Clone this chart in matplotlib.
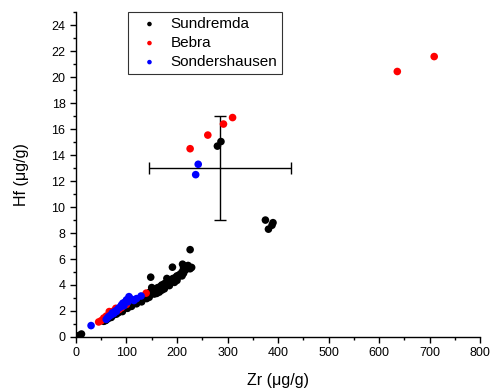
import matplotlib
matplotlib.use("Agg")
import matplotlib.pyplot as plt
from matplotlib.ticker import MultipleLocator

plt.rcParams['font.family'] = ['Liberation Sans', 'DejaVu Sans']

# Sundremda
sund_zr = [5, 8, 11,
           55, 58, 60, 63, 65, 68, 70, 72, 75, 78, 80, 83, 85, 88, 90, 92, 95, 98, 100, 102,
           105, 108, 110, 112, 115, 118, 120, 122, 125, 128, 130, 132, 135, 138, 140, 142,
           145, 148, 150, 152, 155, 158, 160, 162, 165, 168, 170, 172, 175, 178, 180, 182,
           185, 188, 190, 192, 195, 198, 200, 203, 205, 208, 210, 213, 215, 218, 220, 223, 226, 229,
           130, 145, 160, 175, 120, 110, 155, 170, 185, 200, 140, 165, 150, 180, 195, 210,
           148, 191, 211, 226, 217, 222, 213,
           280, 287,
           375, 381, 388, 390]
sund_hf = [0.08, 0.13, 0.22,
           1.2, 1.25, 1.3, 1.4, 1.45, 1.55, 1.5, 1.65, 1.7, 1.8, 1.75, 1.85, 1.9, 2.0, 2.1, 1.95, 2.2, 2.25, 2.3, 2.2,
           2.4, 2.5, 2.45, 2.6, 2.7, 2.65, 2.8, 2.75, 2.9, 3.0, 2.95, 3.1, 3.05, 3.2, 3.3, 3.15,
           3.4, 3.5, 3.45, 3.6, 3.55, 3.7, 3.65, 3.8, 3.75, 3.9, 4.0, 3.85, 4.1, 4.05, 4.2, 4.15,
           4.3, 4.25, 4.4, 4.5, 4.45, 4.6, 4.7, 4.65, 4.8, 4.75, 5.0, 4.9, 5.1, 5.2, 5.3, 5.4, 5.25, 5.35,
           2.7, 3.05, 3.35, 3.7, 2.55, 2.35, 3.3, 3.6, 3.95, 4.35, 2.95, 3.45, 3.8, 4.5, 4.2, 4.7,
           4.6, 5.37, 5.6, 6.72, 5.45, 5.5, 5.3,
           14.7, 15.05,
           9.0, 8.3, 8.6, 8.8]

# Bebra
bebra_zr = [45, 50, 55, 60, 66, 70, 75, 79, 85, 90, 100, 139, 226, 261, 292, 310, 636, 709]
bebra_hf = [1.15, 1.25, 1.45, 1.6, 1.95, 1.9, 2.0, 2.2, 2.1, 2.25, 2.5, 3.37, 14.5, 15.55, 16.4, 16.9, 20.45, 21.6]

# Sondershausen
sond_zr = [30, 60, 63, 66, 70, 72, 75, 78, 80, 84, 88, 90, 93, 95, 98, 100, 103, 105, 110, 115, 120, 129, 237, 242]
sond_hf = [0.87, 1.35, 1.5, 1.6, 1.7, 1.85, 1.8, 2.0, 1.95, 2.2, 2.3, 2.45, 2.6, 2.4, 2.7, 2.85, 2.7, 3.1, 2.9, 2.8, 2.95, 3.15, 12.5, 13.3]

# Error bar (typical uncertainty)
err_x, err_y = 285, 13.0
err_xerr, err_yerr = 140, 4.0

fig = plt.figure(figsize=(4.93, 3.89), dpi=100)
ax = fig.add_axes([0.154, 0.134, 0.820, 0.834])

ms = 30
ax.scatter(sund_zr, sund_hf, s=ms, c='black', edgecolors='none', label='Sundremda', zorder=3)
ax.scatter(bebra_zr, bebra_hf, s=ms, c='red', edgecolors='none', label='Bebra', zorder=4)
ax.scatter(sond_zr, sond_hf, s=ms, c='blue', edgecolors='none', label='Sondershausen', zorder=5)

ax.errorbar([err_x], [err_y], xerr=[err_xerr], yerr=[err_yerr], fmt='none',
            ecolor='black', elinewidth=1, capsize=4, capthick=1, zorder=2)

ax.set_xlim(0, 800)
ax.set_ylim(0, 25)
ax.xaxis.set_major_locator(MultipleLocator(100))
ax.xaxis.set_minor_locator(MultipleLocator(50))
ax.yaxis.set_major_locator(MultipleLocator(2))
ax.yaxis.set_minor_locator(MultipleLocator(1))
ax.spines['top'].set_visible(False)
ax.spines['right'].set_visible(False)
for s in ['left', 'bottom']:
    ax.spines[s].set_linewidth(1.0)
ax.tick_params(which='major', direction='out', length=4, width=1, labelsize=9, colors='black')
ax.tick_params(which='minor', direction='out', length=2.5, width=1)

ax.set_xlabel('Zr (\u03bcg/g)', fontsize=11.5, labelpad=10)
ax.set_ylabel('Hf (\u03bcg/g)', fontsize=11.5, labelpad=16)

leg = ax.legend(loc='upper left', bbox_to_anchor=(0.129, 1.0), borderaxespad=0, fontsize=11,
                frameon=True, fancybox=False, edgecolor='black', markerscale=0.6,
                handletextpad=0.3, borderpad=0.3, labelspacing=0.33, handlelength=2.2)
leg.get_frame().set_linewidth(0.8)

fig.savefig('out.png', dpi=100)
